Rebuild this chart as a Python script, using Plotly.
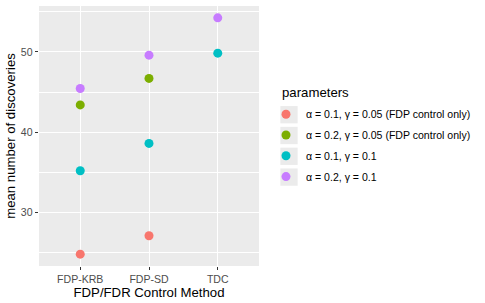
import plotly.graph_objects as go

methods = ["FDP-KRB", "FDP-SD", "TDC"]
series_names = [
    "α = 0.1, γ = 0.05 (FDP control only)",
    "α = 0.2, γ = 0.05 (FDP control only)",
    "α = 0.1, γ = 0.1",
    "α = 0.2, γ = 0.1",
]
series_methods = [
    ["FDP-KRB", "FDP-SD"],
    ["FDP-KRB", "FDP-SD"],
    ["FDP-KRB", "FDP-SD", "TDC"],
    ["FDP-KRB", "FDP-SD", "TDC"],
]
series_values = [
    [24.8, 27.1],
    [43.4, 46.7],
    [35.2, 38.6, 49.85],
    [45.45, 49.6, 54.25],
]
colors = ["#F8766D", "#7CAE00", "#00BFC4", "#C77CFF"]
y_ticks = [30, 40, 50]

W, H = 485, 303
ML, MR, MT, MB = 39, 226, 6, 37
FONT = "Liberation Sans, Arial, sans-serif"

fig = go.Figure()
for i, (name, xs, ys, c) in enumerate(zip(series_names, series_methods, series_values, colors)):
    fig.add_trace(go.Scatter(
        x=xs, y=ys, mode="markers", name=name, legendgroup=f"g{i}",
        marker=dict(color=c, size=9, line=dict(width=0)),
    ))

lo = min(min(v) for v in series_values)
hi = max(max(v) for v in series_values)
pad = (hi - lo) * 0.05

# legend key backgrounds (ggplot style grey boxes)
pw, ph = W - ML - MR, H - MT - MB
key_cx, key_y0, key_step, key_size = 289, 114.7, 20.8, 17.3
shapes = []
for i in range(len(series_names)):
    cy = key_y0 + i * key_step
    shapes.append(dict(
        type="rect", xref="paper", yref="paper", layer="below",
        x0=(key_cx - key_size / 2 - ML) / pw, x1=(key_cx + key_size / 2 - ML) / pw,
        y0=(H - MB - (cy + key_size / 2)) / ph, y1=(H - MB - (cy - key_size / 2)) / ph,
        fillcolor="#EBEBEB", line=dict(width=0),
    ))

fig.update_layout(
    width=W, height=H,
    margin=dict(l=ML, r=MR, t=MT, b=MB, pad=0, autoexpand=False),
    paper_bgcolor="white", plot_bgcolor="#EBEBEB",
    font=dict(family=FONT, size=10.56, color="#4D4D4D"),
    shapes=shapes,
    showlegend=True,
    legend=dict(
        xref="container", yref="container",
        x=266 / W, y=1 - 99.7 / H, xanchor="left", yanchor="top",
        font=dict(family=FONT, size=10.56, color="black"),
        bgcolor="rgba(0,0,0,0)", borderwidth=0,
        tracegroupgap=1.8, itemsizing="trace",
    ),
    annotations=[dict(
        text="parameters", xref="paper", yref="paper",
        x=(280 - ML) / pw, y=(H - MB - 92.3) / ph,
        xanchor="left", yanchor="middle", showarrow=False,
        font=dict(family=FONT, size=13.2, color="black"),
    )],
    xaxis=dict(
        type="category", categoryorder="array", categoryarray=methods,
        range=[-0.6, len(methods) - 1 + 0.6], automargin=False,
        showgrid=True, gridcolor="white", gridwidth=1.07,
        ticks="outside", ticklen=3.3, tickwidth=1.07, tickcolor="#333333",
        tickfont=dict(family=FONT, size=10.56, color="#4D4D4D"),
        showline=False, zeroline=False,
        title=dict(text="FDP/FDR Control Method", standoff=2,
                   font=dict(family=FONT, size=13.2, color="black")),
    ),
    yaxis=dict(
        range=[lo - pad, hi + pad], automargin=False,
        tickvals=y_ticks,
        showgrid=True, gridcolor="white", gridwidth=1.07,
        minor=dict(showgrid=True, gridcolor="white", gridwidth=0.53, dtick=5, tick0=0),
        ticks="outside", ticklen=3.3, tickwidth=1.07, tickcolor="#333333",
        tickfont=dict(family=FONT, size=10.56, color="#4D4D4D"),
        showline=False, zeroline=False,
        title=dict(text="mean number of discoveries", standoff=2,
                   font=dict(family=FONT, size=13.2, color="black")),
    ),
)

fig.write_html(
    "out.html",
    config={"displayModeBar": False},
    post_script="document.body.style.margin='0';document.body.style.overflow='hidden';",
)
